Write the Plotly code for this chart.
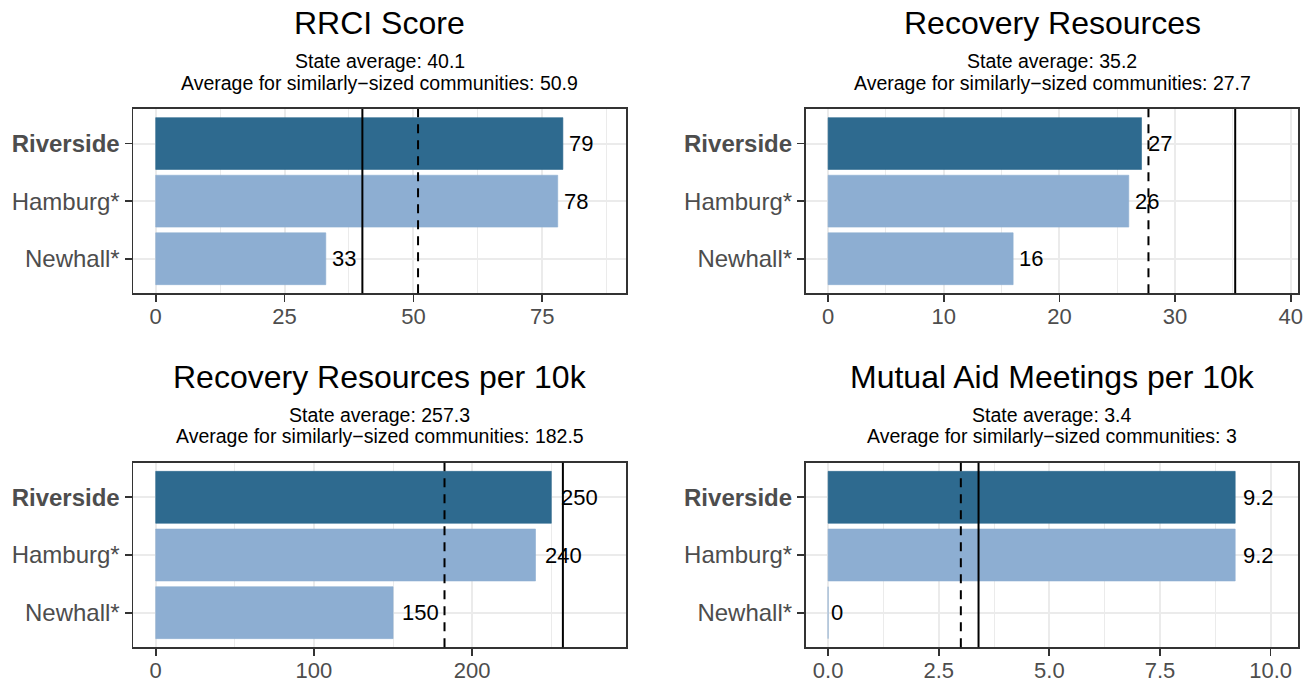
import plotly.graph_objects as go
from plotly.subplots import make_subplots

# ---------------- data ----------------
categories = ["Riverside", "Hamburg*", "Newhall*"]
highlight = "Riverside"

panel_titles = [
    "RRCI Score",
    "Recovery Resources",
    "Recovery Resources per 10k",
    "Mutual Aid Meetings per 10k",
]
rrci_values = [79, 78, 33]
resources_values = [27.1, 26, 16]
resources_per10k_values = [250, 240, 150]
mutual_aid_values = [9.2, 9.2, 0]
panel_values = [rrci_values, resources_values, resources_per10k_values, mutual_aid_values]

state_avgs = [40.1, 35.2, 257.3, 3.4]
similar_avgs = [50.9, 27.7, 182.5, 3.0]

tick_steps = [25, 10, 100, 2.5]
tick_formats = ["d", "d", "d", ".1f"]

# ---------------- style ----------------
FONT = "Liberation Sans, Arial, Helvetica, sans-serif"
DARK = "#2E6A8F"
LIGHT = "#8DAED2"
FRAME = "#333333"
GRID = "#EBEBEB"
TICKTXT = "#4D4D4D"

W, H = 1312, 683
col_px = [(133.3, 626.0), (805.7, 1298.3)]
row_px = [(109.0, 293.3), (462.7, 647.3)]


def px_x(x):
    return x / W


def px_y(y):
    return 1 - y / H


def sig2(v):
    r = float(f"{v:.2g}")
    return str(int(r)) if r == int(r) else str(r)


def text_width(s, size):
    w = 0
    for ch in s:
        w += 0.278 if ch == "." else 0.556
    return w * size


fig = make_subplots(rows=2, cols=2)

annotations = []
shapes = []
y_order = list(reversed(categories))
ticktext = [f"<b>{c}</b>" if c == highlight else c for c in categories]

for i in range(4):
    r, c = divmod(i, 2)
    vals = panel_values[i]
    colors = [DARK if cat == highlight else LIGHT for cat in categories]
    fig.add_trace(
        go.Bar(
            x=vals,
            y=categories,
            orientation="h",
            width=0.9,
            marker=dict(color=colors, line=dict(color=colors, width=0.6)),
            showlegend=False,
            hoverinfo="skip",
        ),
        row=r + 1,
        col=c + 1,
    )
    L = 1.1 * max(vals + [state_avgs[i], similar_avgs[i]])
    xn = "" if i == 0 else str(i + 1)
    x0, x1 = col_px[c]
    y0, y1 = row_px[r]
    fig.update_layout(
        **{
            f"xaxis{xn}": dict(
                domain=[px_x(x0), px_x(x1)],
                range=[-0.05 * L, 1.05 * L],
                automargin=False,
                dtick=tick_steps[i],
                tick0=0,
                tickformat=tick_formats[i],
                showline=True,
                mirror=True,
                linecolor=FRAME,
                linewidth=1.8,
                ticks="outside",
                ticklen=7,
                tickwidth=1.8,
                tickcolor=FRAME,
                ticklabelstandoff=-5,
                tickfont=dict(family=FONT, size=22, color=TICKTXT),
                showgrid=True,
                gridcolor=GRID,
                gridwidth=2,
                minor=dict(showgrid=True, gridcolor=GRID, gridwidth=1,
                           dtick=tick_steps[i] / 2, tick0=0),
                zeroline=False,
                fixedrange=True,
            ),
            f"yaxis{xn}": dict(
                domain=[px_y(y1), px_y(y0)],
                automargin=False,
                type="category",
                categoryorder="array",
                categoryarray=y_order,
                range=[-0.6, 2.6],
                tickvals=categories,
                ticktext=ticktext,
                showline=True,
                mirror=True,
                linecolor=FRAME,
                linewidth=1.8,
                ticks="outside",
                ticklen=7,
                tickwidth=1.8,
                tickcolor=FRAME,
                tickfont=dict(family=FONT, size=24, color=TICKTXT),
                showgrid=True,
                gridcolor=GRID,
                gridwidth=2,
                zeroline=False,
                fixedrange=True,
            ),
        }
    )
    xref = f"x{xn}"
    yref = f"y{xn}"
    # reference lines
    shapes.append(dict(type="line", xref=xref, yref=f"{yref} domain",
                       x0=state_avgs[i], x1=state_avgs[i], y0=0, y1=1,
                       line=dict(color="black", width=2), layer="above"))
    shapes.append(dict(type="line", xref=xref, yref=f"{yref} domain",
                       x0=similar_avgs[i], x1=similar_avgs[i], y0=0, y1=1,
                       line=dict(color="black", width=2, dash="9px,7px"), layer="above"))
    # value labels
    for cat, v in zip(categories, vals):
        s = sig2(v)
        annotations.append(dict(
            x=v, y=cat, xref=xref, yref=yref, text=s, showarrow=False,
            xanchor="left", yanchor="middle", borderpad=0,
            xshift=0.25 * text_width(s, 22) - 1,
            font=dict(family=FONT, size=22, color="black"),
        ))
    # titles
    cx = px_x((x0 + x1) / 2)
    annotations.append(dict(
        x=cx, y=px_y(y0 - 86), xref="paper", yref="paper",
        text=panel_titles[i], showarrow=False, xanchor="center", yanchor="middle",
        font=dict(family=FONT, size=32, color="black"),
    ))
    annotations.append(dict(
        x=cx, y=px_y(y0 - 47.5), xref="paper", yref="paper",
        text=f"State average: {state_avgs[i]:g}", showarrow=False,
        xanchor="center", yanchor="middle",
        font=dict(family=FONT, size=19.5, color="black"),
    ))
    annotations.append(dict(
        x=cx, y=px_y(y0 - 26.5), xref="paper", yref="paper",
        text=f"Average for similarly\u2212sized communities: {similar_avgs[i]:g}",
        showarrow=False, xanchor="center", yanchor="middle",
        font=dict(family=FONT, size=19.5, color="black"),
    ))

fig.update_layout(
    width=W,
    height=H,
    margin=dict(l=0, r=0, t=0, b=0, autoexpand=False),
    paper_bgcolor="white",
    plot_bgcolor="white",
    annotations=annotations,
    shapes=shapes,
    bargap=0.1,
    font=dict(family=FONT),
)

fig.write_html(
    "out.html",
    config={"displayModeBar": False, "staticPlot": True},
    post_script="document.body.style.margin='0px';document.body.style.overflow='hidden';",
)
